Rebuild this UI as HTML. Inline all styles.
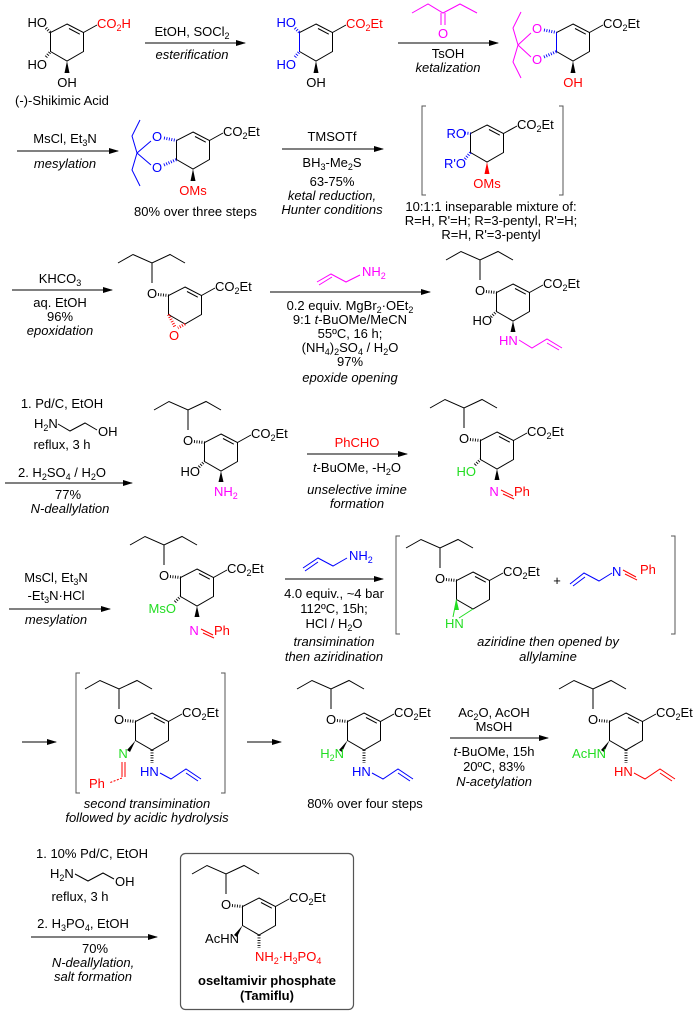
<!DOCTYPE html>
<html><head><meta charset="utf-8"><style>
html,body{margin:0;padding:0;background:#fff;}
svg{display:block;}
text{font-family:"Liberation Sans",Arial,sans-serif;font-size:13px;fill:#000;}
.i{font-style:italic;}
.c{text-anchor:middle;}
.e{text-anchor:end;}
.b{fill:#0000ff;}.r{fill:#ff0000;}.m{fill:#ff00ff;}.g{fill:#22dd22;}
line,path,polyline{stroke:#000;stroke-width:1;fill:none;}
.hs{stroke-width:3;stroke-dasharray:0.9 1.6;}
</style></head><body>
<svg width="695" height="1015" viewBox="0 0 695 1015" xmlns="http://www.w3.org/2000/svg">
<defs>
<marker id="ah" markerWidth="10" markerHeight="8" refX="9" refY="4" orient="auto" markerUnits="userSpaceOnUse"><path d="M0,1 L10,4 L0,7 Z" style="fill:#000;stroke:none"/></marker>
<g id="ring"><path d="M0,-18 L16.5,-9.5 L16.5,9.5 L0,19 L-16.5,9.5 L-16.5,-9.5 Z"/><path d="M2,-13.5 L12.8,-7.8"/><path d="M16.5,-9.5 L30,-17"/></g>
<g id="pent"><path d="M-67,-42 L-52,-50.5 L-33,-42 L-15,-50.5 L0,-42 M-33,-42 L-33,-22"/><line class="hs" x1="-27" y1="-10.5" x2="-16.5" y2="-9.5"/></g>
</defs>

<!-- Row 1 -->
<g transform="translate(67,42)"><use href="#ring"/>
<line class="hs" x1="-21" y1="-14" x2="-16.5" y2="-9.5"/><line class="hs" x1="-21" y1="15" x2="-16.5" y2="9.5"/>
<polygon points="0,19 -2.5,31 2.5,31" style="fill:#000"/>
<text class="e" x="-20" y="-15">HO</text><text class="e" x="-20" y="27">HO</text><text class="c" x="0" y="45">OH</text>
<text class="r" x="30" y="-14">CO<tspan dy="3" font-size="9">2</tspan><tspan dy="-3">H</tspan></text></g>
<text x="15" y="105">(-)-Shikimic Acid</text>

<line x1="145" y1="43" x2="245" y2="43" marker-end="url(#ah)"/>
<text class="c" x="192" y="36">EtOH, SOCl<tspan dy="3" font-size="9">2</tspan></text>
<text class="c i" x="192" y="59">esterification</text>

<g transform="translate(316,42)"><use href="#ring"/>
<path d="M-16.5,-9.5 L-16.5,9.5" style="stroke:#0000ff"/>
<line class="hs" x1="-21" y1="-14" x2="-16.5" y2="-9.5" style="stroke:#0000ff"/><line class="hs" x1="-21" y1="15" x2="-16.5" y2="9.5" style="stroke:#0000ff"/>
<polygon points="0,19 -2.5,31 2.5,31" style="fill:#000"/>
<text class="e b" x="-20" y="-15">HO</text><text class="e b" x="-20" y="27">HO</text><text class="c" x="0" y="45">OH</text>
<text class="r" x="30" y="-14">CO<tspan dy="3" font-size="9">2</tspan><tspan dy="-3">Et</tspan></text></g>

<path d="M412,13 L428,4 L443,13 L460,4 L477,13 M441,13 L441,25 M445,13 L445,25" style="stroke:#ff00ff"/>
<text class="c m" x="443" y="38">O</text>
<line x1="398" y1="43" x2="498" y2="43" marker-end="url(#ah)"/>
<text class="c" x="448" y="58">TsOH</text>
<text class="c i" x="448" y="72">ketalization</text>

<g transform="translate(573,42)"><use href="#ring"/>
<path d="M-16.5,-9.5 L-16.5,9.5" style="stroke:#0000ff"/>
<line class="hs" x1="-29" y1="-12" x2="-16.5" y2="-9.5" style="stroke:#0000ff"/><line class="hs" x1="-29" y1="15" x2="-16.5" y2="9.5" style="stroke:#0000ff"/>
<path d="M-55,3 L-42,-9 M-55,3 L-42,15 M-55,3 L-60,-14 L-52,-30 M-55,3 L-60,20 L-52,36" style="stroke:#ff00ff"/>
<text class="c m" x="-36" y="-9">O</text><text class="c m" x="-36" y="22">O</text>
<polygon points="0,19 -2.5,31 2.5,31" style="fill:#000"/>
<text class="c r" x="0" y="45">OH</text>
<text x="30" y="-14">CO<tspan dy="3" font-size="9">2</tspan><tspan dy="-3">Et</tspan></text></g>

<!-- Row 2 -->
<line x1="17" y1="151" x2="118" y2="151" marker-end="url(#ah)"/>
<text class="c" x="65" y="143">MsCl, Et<tspan dy="3" font-size="9">3</tspan><tspan dy="-3">N</tspan></text>
<text class="c i" x="65" y="168">mesylation</text>

<g transform="translate(193,150)"><use href="#ring"/>
<line class="hs" x1="-29" y1="-12" x2="-16.5" y2="-9.5" style="stroke:#0000ff"/><line class="hs" x1="-29" y1="15" x2="-16.5" y2="9.5" style="stroke:#0000ff"/>
<path d="M-56,3 L-42,-9 M-56,3 L-42,15 M-56,3 L-61,-14 L-53,-30 M-56,3 L-61,20 L-53,36" style="stroke:#0000ff"/>
<text class="c b" x="-36" y="-9">O</text><text class="c b" x="-36" y="22">O</text>
<polygon points="0,19 -2.5,31 2.5,31" style="fill:#000"/>
<text class="c r" x="0" y="45">OMs</text>
<text x="30" y="-14">CO<tspan dy="3" font-size="9">2</tspan><tspan dy="-3">Et</tspan></text></g>
<text x="134" y="216">80% over three steps</text>

<line x1="282" y1="149" x2="383" y2="149" marker-end="url(#ah)"/>
<text class="c" x="332" y="141">TMSOTf</text>
<text class="c" x="332" y="167">BH<tspan dy="3" font-size="9">3</tspan><tspan dy="-3">-Me</tspan><tspan dy="3" font-size="9">2</tspan><tspan dy="-3">S</tspan></text>
<text class="c" x="332" y="186">63-75%</text>
<text class="c i" x="332" y="200">ketal reduction,</text>
<text class="c i" x="332" y="214">Hunter conditions</text>

<path d="M426,106 L422,106 L422,195 L426,195 M559,106 L563,106 L563,195 L559,195" style="stroke:#555"/>
<g transform="translate(487,143)"><use href="#ring"/>
<line class="hs" x1="-22" y1="-10" x2="-16.5" y2="-9.5" style="stroke:#0000ff"/><line class="hs" x1="-22" y1="16" x2="-16.5" y2="9.5" style="stroke:#0000ff"/>
<polygon points="0,19 -2.5,31 2.5,31" style="fill:#ff0000"/>
<text class="e b" x="-21" y="-5">RO</text><text class="e b" x="-21" y="25">R'O</text>
<text class="c r" x="0" y="45">OMs</text>
<text x="30" y="-14">CO<tspan dy="3" font-size="9">2</tspan><tspan dy="-3">Et</tspan></text></g>
<text class="c" x="491" y="211">10:1:1 inseparable mixture of:</text>
<text class="c" x="491" y="225">R=H, R'=H; R=3-pentyl, R'=H;</text>
<text class="c" x="491" y="239">R=H, R'=3-pentyl</text>

<!-- Row 3 -->
<line x1="12" y1="290" x2="112" y2="290" marker-end="url(#ah)"/>
<text class="c" x="60" y="283">KHCO<tspan dy="3" font-size="9">3</tspan></text>
<text class="c" x="60" y="307">aq. EtOH</text>
<text class="c" x="60" y="321">96%</text>
<text class="c i" x="60" y="335">epoxidation</text>

<g transform="translate(185,305)"><use href="#ring"/><use href="#pent"/>
<text class="c" x="-33" y="-7">O</text>
<line class="hs" x1="-16.5" y1="9.5" x2="-10" y2="22" style="stroke:#ff0000"/><line class="hs" x1="0" y1="19" x2="-7" y2="23" style="stroke:#ff0000"/>
<text class="c r" x="-11" y="35">O</text>
<text x="30" y="-14">CO<tspan dy="3" font-size="9">2</tspan><tspan dy="-3">Et</tspan></text></g>

<path d="M317,282 L331,274 L346,282 L360,275 M319,285 L332,277" style="stroke:#ff00ff"/>
<text class="m" x="362" y="276">NH<tspan dy="3" font-size="9">2</tspan></text>
<line x1="270" y1="292" x2="430" y2="292" marker-end="url(#ah)"/>
<text class="c" x="350" y="310">0.2 equiv. MgBr<tspan dy="3" font-size="9">2</tspan><tspan dy="-3">·OEt</tspan><tspan dy="3" font-size="9">2</tspan></text>
<text class="c" x="350" y="324">9:1 <tspan font-style="italic">t</tspan>-BuOMe/MeCN</text>
<text class="c" x="350" y="338">55ºC, 16 h;</text>
<text class="c" x="350" y="352">(NH<tspan dy="3" font-size="9">4</tspan><tspan dy="-3">)</tspan><tspan dy="3" font-size="9">2</tspan><tspan dy="-3">SO</tspan><tspan dy="3" font-size="9">4</tspan><tspan dy="-3"> / H</tspan><tspan dy="3" font-size="9">2</tspan><tspan dy="-3">O</tspan></text>
<text class="c" x="350" y="366">97%</text>
<text class="c i" x="350" y="382">epoxide opening</text>

<g transform="translate(513,302)"><use href="#ring"/><use href="#pent"/>
<text class="c" x="-33" y="-7">O</text>
<line class="hs" x1="-22" y1="15" x2="-16.5" y2="9.5"/>
<text class="e" x="-21" y="23">HO</text>
<polygon points="0,19 -2.5,30 2.5,30" style="fill:#000"/>
<text class="m" x="-14" y="43">HN</text>
<path d="M6,38 L19,46 L34,37 L49,46 M34,41 L46,48" style="stroke:#ff00ff"/>
<text x="30" y="-14">CO<tspan dy="3" font-size="9">2</tspan><tspan dy="-3">Et</tspan></text></g>

<!-- Row 4 -->
<text class="c" x="62" y="408">1. Pd/C, EtOH</text>
<text x="34" y="428">H<tspan dy="3" font-size="9">2</tspan><tspan dy="-3">N</tspan></text>
<path d="M58,424 L70,431 L85,423 L97,430"/>
<text x="98" y="436">OH</text>
<text class="c" x="62" y="449">reflux, 3 h</text>
<text class="c" x="62" y="477">2. H<tspan dy="3" font-size="9">2</tspan><tspan dy="-3">SO</tspan><tspan dy="3" font-size="9">4</tspan><tspan dy="-3"> / H</tspan><tspan dy="3" font-size="9">2</tspan><tspan dy="-3">O</tspan></text>
<line x1="5" y1="483" x2="132" y2="483" marker-end="url(#ah)"/>
<text class="c" x="68" y="499">77%</text>
<text class="c i" x="70" y="513">N-deallylation</text>

<g transform="translate(221,452)"><use href="#ring"/><use href="#pent"/>
<text class="c" x="-33" y="-7">O</text>
<line class="hs" x1="-22" y1="15" x2="-16.5" y2="9.5"/>
<text class="e" x="-21" y="24">HO</text>
<polygon points="0,19 -2.5,30 2.5,30" style="fill:#000"/>
<text class="m" x="-7" y="44">NH<tspan dy="3" font-size="9">2</tspan></text>
<text x="30" y="-14">CO<tspan dy="3" font-size="9">2</tspan><tspan dy="-3">Et</tspan></text></g>

<text class="c r" x="357" y="447">PhCHO</text>
<line x1="307" y1="454" x2="407" y2="454" marker-end="url(#ah)"/>
<text class="c" x="357" y="472"><tspan font-style="italic">t</tspan>-BuOMe, -H<tspan dy="3" font-size="9">2</tspan><tspan dy="-3">O</tspan></text>
<text class="c i" x="357" y="494">unselective imine</text>
<text class="c i" x="357" y="508">formation</text>

<g transform="translate(497,450)"><use href="#ring"/><use href="#pent"/>
<text class="c" x="-33" y="-7">O</text>
<line class="hs" x1="-22" y1="15" x2="-16.5" y2="9.5"/>
<text class="e g" x="-21" y="26">HO</text>
<polygon points="0,19 -2.5,30 2.5,30" style="fill:#000"/>
<text class="c m" x="-3" y="46">N</text>
<path d="M4,40 L16,46 M6,44 L17,49" style="stroke:#ff0000"/>
<text class="r" x="17" y="46">Ph</text>
<text x="30" y="-14">CO<tspan dy="3" font-size="9">2</tspan><tspan dy="-3">Et</tspan></text></g>

<!-- Row 5 -->
<text class="c" x="56" y="582">MsCl, Et<tspan dy="3" font-size="9">3</tspan><tspan dy="-3">N</tspan></text>
<text class="c" x="56" y="600">-Et<tspan dy="3" font-size="9">3</tspan><tspan dy="-3">N·HCl</tspan></text>
<line x1="9" y1="609" x2="110" y2="609" marker-end="url(#ah)"/>
<text class="c i" x="56" y="624">mesylation</text>

<g transform="translate(197,587)"><use href="#ring"/><use href="#pent"/>
<text class="c" x="-33" y="-7">O</text>
<line class="hs" x1="-22" y1="15" x2="-16.5" y2="9.5"/>
<text class="e g" x="-21" y="26">MsO</text>
<polygon points="0,19 -2.5,30 2.5,30" style="fill:#000"/>
<text class="c m" x="-3" y="48">N</text>
<path d="M4,42 L16,48 M6,46 L17,51" style="stroke:#ff0000"/>
<text class="r" x="17" y="48">Ph</text>
<text x="30" y="-14">CO<tspan dy="3" font-size="9">2</tspan><tspan dy="-3">Et</tspan></text></g>

<path d="M303,568 L318,558 L333,566 L347,558 M305,571 L318,562" style="stroke:#0000ff"/>
<text class="b" x="349" y="560">NH<tspan dy="3" font-size="9">2</tspan></text>
<line x1="285" y1="579" x2="383" y2="579" marker-end="url(#ah)"/>
<text class="c" x="334" y="598">4.0 equiv., ~4 bar</text>
<text class="c" x="334" y="613">112ºC, 15h;</text>
<text class="c" x="334" y="628">HCl / H<tspan dy="3" font-size="9">2</tspan><tspan dy="-3">O</tspan></text>
<text class="c i" x="334" y="646">transimination</text>
<text class="c i" x="334" y="661">then aziridination</text>

<path d="M400,536 L396,536 L396,634 L400,634 M671,536 L675,536 L675,634 L671,634" style="stroke:#555"/>
<g transform="translate(473,590)"><use href="#ring"/><use href="#pent"/>
<text class="c" x="-33" y="-7">O</text>
<path d="M-16.5,9.5 L-20,27 M0,19 L-14,28" style="stroke:#22dd22"/>
<polygon points="-16.5,9.5 -19,20 -14,20" style="fill:#22dd22"/>
<text class="g" x="-28" y="38">HN</text>
<text x="30" y="-14">CO<tspan dy="3" font-size="9">2</tspan><tspan dy="-3">Et</tspan></text></g>
<text class="c" x="557" y="585">+</text>
<path d="M570,584 L584,573 L599,581 L612,573 M573,586 L585,577" style="stroke:#0000ff"/>
<text class="b" x="612" y="576">N</text>
<path d="M623,570 L636,577 M625,574 L637,580" style="stroke:#ff0000"/>
<text class="r" x="640" y="574">Ph</text>
<text class="c i" x="548" y="646">aziridine then opened by</text>
<text class="c i" x="548" y="661">allylamine</text>

<!-- Row 6 -->
<line x1="22" y1="742" x2="56" y2="742" marker-end="url(#ah)"/>
<path d="M80,673 L76,673 L76,793 L80,793 M221,673 L225,673 L225,793 L221,793" style="stroke:#555"/>
<g transform="translate(152,731)"><use href="#ring"/><use href="#pent"/>
<text class="c" x="-33" y="-7">O</text>
<polygon points="-16.5,9.5 -25,19 -22,21" style="fill:#000"/>
<text class="c g" x="-29" y="27">N</text>
<path d="M-30,31 L-30,46 M-27,31 L-27,46" style="stroke:#ff0000"/>
<path d="M-30,47 L-43,52" style="stroke:#ff0000;stroke-dasharray:2 1.5"/>
<text class="r" x="-63" y="57">Ph</text>
<line class="hs" x1="0" y1="19" x2="0" y2="32"/>
<text class="b" x="-12" y="45">HN</text>
<path d="M8,42 L19,48 L34,38 L49,48 M34,42 L46,50" style="stroke:#0000ff"/>
<text x="30" y="-14">CO<tspan dy="3" font-size="9">2</tspan><tspan dy="-3">Et</tspan></text></g>
<text class="c i" x="147" y="808">second transimination</text>
<text class="c i" x="147" y="822">followed by acidic hydrolysis</text>

<line x1="247" y1="742" x2="281" y2="742" marker-end="url(#ah)"/>
<g transform="translate(364,731)"><use href="#ring"/><use href="#pent"/>
<text class="c" x="-33" y="-7">O</text>
<polygon points="-16.5,9.5 -25,19 -22,21" style="fill:#000"/>
<text class="e g" x="-20" y="27">H<tspan dy="3" font-size="9">2</tspan><tspan dy="-3">N</tspan></text>
<line class="hs" x1="0" y1="19" x2="0" y2="32"/>
<text class="b" x="-12" y="45">HN</text>
<path d="M8,42 L19,48 L34,38 L49,48 M34,42 L46,50" style="stroke:#0000ff"/>
<text x="30" y="-14">CO<tspan dy="3" font-size="9">2</tspan><tspan dy="-3">Et</tspan></text></g>
<text class="c" x="365" y="808">80% over four steps</text>

<text class="c" x="494" y="717">Ac<tspan dy="3" font-size="9">2</tspan><tspan dy="-3">O, AcOH</tspan></text>
<text class="c" x="494" y="731">MsOH</text>
<line x1="450" y1="738" x2="548" y2="738" marker-end="url(#ah)"/>
<text class="c" x="494" y="756"><tspan font-style="italic">t</tspan>-BuOMe, 15h</text>
<text class="c" x="494" y="771">20ºC, 83%</text>
<text class="c i" x="494" y="786">N-acetylation</text>

<g transform="translate(626,731)"><use href="#ring"/><use href="#pent"/>
<text class="c" x="-33" y="-7">O</text>
<polygon points="-16.5,9.5 -25,19 -22,21" style="fill:#000"/>
<text class="e g" x="-20" y="27">AcHN</text>
<line class="hs" x1="0" y1="19" x2="0" y2="32"/>
<text class="r" x="-12" y="45">HN</text>
<path d="M8,42 L19,48 L34,38 L49,48 M34,42 L46,50" style="stroke:#ff0000"/>
<text x="30" y="-14">CO<tspan dy="3" font-size="9">2</tspan><tspan dy="-3">Et</tspan></text></g>

<!-- Row 7 -->
<text class="c" x="92" y="858">1. 10% Pd/C, EtOH</text>
<text x="50" y="878">H<tspan dy="3" font-size="9">2</tspan><tspan dy="-3">N</tspan></text>
<path d="M75,874 L88,881 L103,873 L114,879"/>
<text x="115" y="886">OH</text>
<text class="c" x="80" y="901">reflux, 3 h</text>
<text class="c" x="83" y="928">2. H<tspan dy="3" font-size="9">3</tspan><tspan dy="-3">PO</tspan><tspan dy="3" font-size="9">4</tspan><tspan dy="-3">, EtOH</tspan></text>
<line x1="31" y1="937" x2="157" y2="937" marker-end="url(#ah)"/>
<text class="c" x="95" y="953">70%</text>
<text class="c i" x="93" y="967">N-deallylation,</text>
<text class="c i" x="93" y="981">salt formation</text>

<rect x="180.5" y="853.5" width="173" height="156" rx="5" style="fill:none;stroke:#555;stroke-width:1.2"/>
<g transform="translate(259,916)"><use href="#ring"/><use href="#pent"/>
<text class="c" x="-33" y="-7">O</text>
<polygon points="-16.5,9.5 -25,19 -22,21" style="fill:#000"/>
<text class="e" x="-20" y="27">AcHN</text>
<line class="hs" x1="0" y1="19" x2="0" y2="32"/>
<text class="r" x="-4" y="45">NH<tspan dy="3" font-size="9">2</tspan><tspan dy="-3">·H</tspan><tspan dy="3" font-size="9">3</tspan><tspan dy="-3">PO</tspan><tspan dy="3" font-size="9">4</tspan></text>
<text x="30" y="-14">CO<tspan dy="3" font-size="9">2</tspan><tspan dy="-3">Et</tspan></text></g>
<text class="c" x="267" y="985" font-weight="bold">oseltamivir phosphate</text>
<text class="c" x="267" y="1000" font-weight="bold">(Tamiflu)</text>
</svg>
</body></html>
